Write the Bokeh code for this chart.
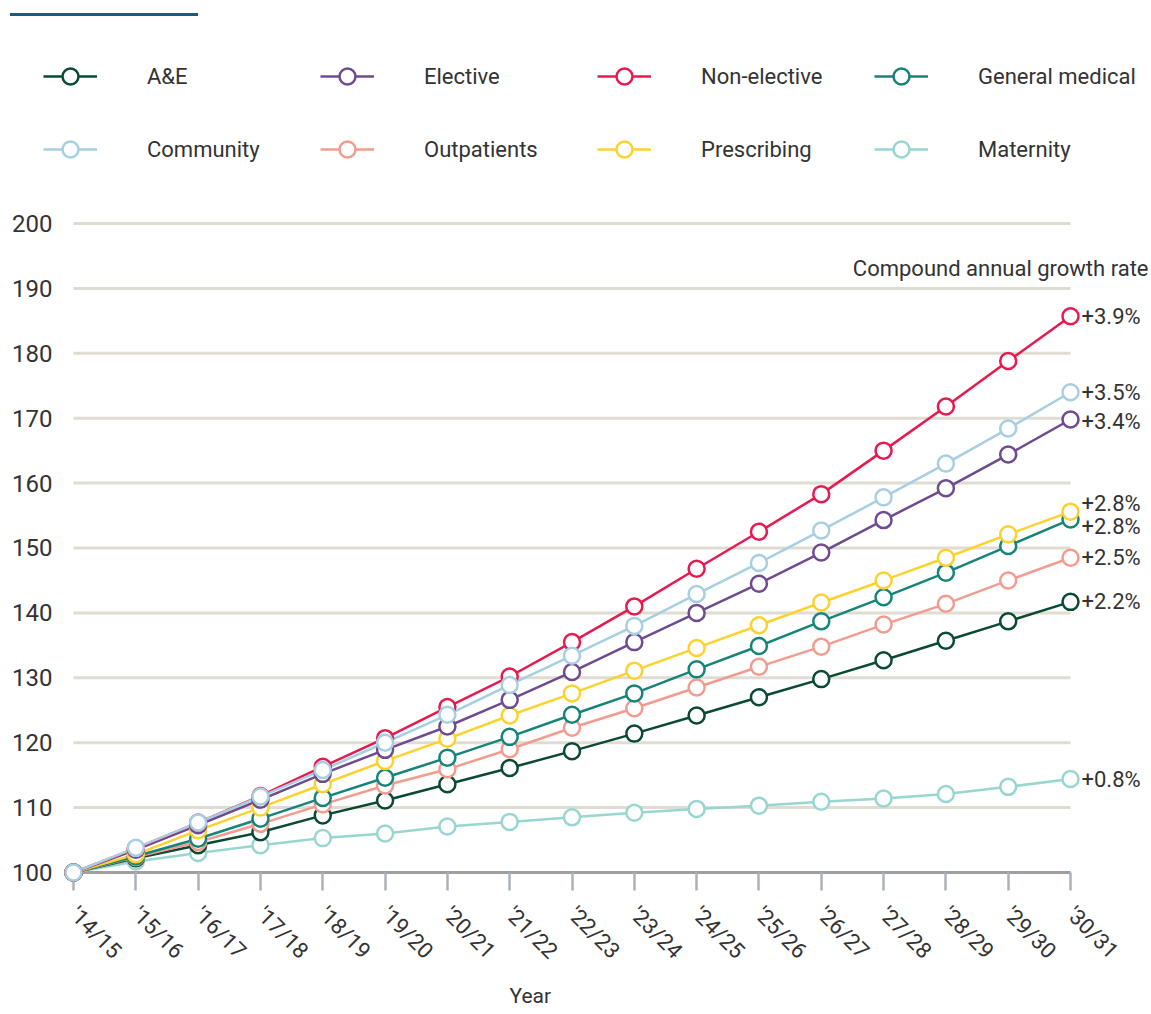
import numpy as np
from bokeh.plotting import figure
from bokeh.models import FixedTicker, Legend, LegendItem, Div, Range1d, Title
from bokeh.layouts import column
from bokeh.embed import file_html
from bokeh.resources import INLINE
from bokeh.core.properties import value

# Financial years on the x axis
years = ["'14/15", "'15/16", "'16/17", "'17/18", "'18/19", "'19/20", "'20/21", "'21/22",
         "'22/23", "'23/24", "'24/25", "'25/26", "'26/27", "'27/28", "'28/29", "'29/30", "'30/31"]

# Activity / spend index, 2014/15 = 100
ae = [100, 102.2, 104.2, 106.2, 108.8, 111.1, 113.6, 116.1, 118.7, 121.4, 124.2,
      127.0, 129.8, 132.7, 135.7, 138.7, 141.7]
elective = [100, 103.5, 107.3, 111.2, 115.2, 118.9, 122.5, 126.6, 130.9, 135.5, 140.0,
            144.5, 149.3, 154.3, 159.2, 164.4, 169.8]
non_elective = [100, 103.7, 107.7, 111.8, 116.3, 120.7, 125.5, 130.2, 135.5, 141.0, 146.8,
                152.5, 158.3, 165.0, 171.8, 178.8, 185.7]
general_medical = [100, 102.5, 105.2, 108.3, 111.5, 114.6, 117.7, 120.9, 124.3, 127.6, 131.3,
                   134.9, 138.7, 142.4, 146.2, 150.3, 154.4]
community = [100, 103.8, 107.7, 111.7, 115.8, 120.0, 124.3, 128.9, 133.4, 138.0, 142.9,
             147.7, 152.7, 157.8, 163.0, 168.4, 174.0]
outpatients = [100, 102.4, 104.7, 107.5, 110.5, 113.4, 115.9, 119.0, 122.3, 125.3, 128.5,
               131.7, 134.8, 138.2, 141.4, 145.0, 148.5]
prescribing = [100, 102.8, 106.5, 110.0, 113.6, 117.2, 120.6, 124.2, 127.6, 131.1, 134.6,
               138.1, 141.6, 145.0, 148.5, 152.1, 155.6]
maternity = [100, 101.7, 103.0, 104.2, 105.3, 106.0, 107.1, 107.8, 108.5, 109.2, 109.8,
             110.3, 110.9, 111.4, 112.1, 113.2, 114.4]

names = ["A&E", "Elective", "Non-elective", "General medical",
         "Community", "Outpatients", "Prescribing", "Maternity"]
cagr = ["+2.2%", "+3.4%", "+3.9%", "+2.8%", "+3.5%", "+2.5%", "+2.8%", "+0.8%"]
y_ticks = [100, 110, 120, 130, 140, 150, 160, 170, 180, 190, 200]

values_by_name = {
    "A&E": ae, "Elective": elective, "Non-elective": non_elective,
    "General medical": general_medical, "Community": community,
    "Outpatients": outpatients, "Prescribing": prescribing, "Maternity": maternity,
}
colors = {
    "A&E": "#0a4a33", "Elective": "#6e4b8f", "Non-elective": "#e8194f",
    "General medical": "#168478", "Community": "#a7cfe2", "Outpatients": "#f29c8f",
    "Prescribing": "#fdd22d", "Maternity": "#98d6d0",
}
# small vertical nudges (px) so the two +2.8% labels do not collide
label_nudge = {"Prescribing": -8, "General medical": 7, "Elective": 2}
# drawing order, back to front
draw_order = ["Maternity", "A&E", "Outpatients", "General medical",
              "Prescribing", "Elective", "Non-elective", "Community"]

FONT = "Roboto"
TEXT = "#333333"
LINE_W = 2.5
MARKER = 16

n = len(years)
xs = list(range(n))
px_per_x = 997 / (n - 1)
px_per_y = 6.5
fig_w = 1151
frame_left = 57
main_h, bottom_border = 804, 131
x_start = -16 / px_per_x
x_end = x_start + (fig_w - frame_left) / px_per_x
y_end = 202
y_start = y_end - (main_h - bottom_border) / px_per_y

# ---- thin rule across the top -------------------------------------------
header = Div(text="", width=188, height=3, margin=(13, 0, 0, 10),
             styles={"background-color": "#1d5b7d"})

# ---- legend strip ----------------------------------------------------------
# The series are drawn here too, but fall outside this strip's ranges, so only
# their legend entries show.
lf = figure(width=fig_w, height=194, x_range=Range1d(0, 1), y_range=Range1d(0, 1),
            output_backend="svg", toolbar_location=None,
            x_axis_location=None, y_axis_location=None,
            min_border_left=0, min_border_right=0, min_border_top=0, min_border_bottom=0,
            margin=(0, 0, 0, 0), frame_align=False)
lf.outline_line_color = None
lf.xgrid.visible = False
lf.ygrid.visible = False
legend_items = []
for nm in names:
    c = colors[nm]
    vals = values_by_name[nm]
    r1 = lf.line(xs, vals, line_color=c, line_width=LINE_W)
    r2 = lf.scatter(xs, vals, marker="circle", fill_color="white", line_color=c,
                    line_width=LINE_W)
    legend_items.append(LegendItem(label=nm, renderers=[r1, r2]))
legend = Legend(items=legend_items, orientation="horizontal", ncols=4,
                glyph_width=54, glyph_height=40, label_standoff=50, label_width=140,
                spacing=33, padding=0, margin=0, location=(43, 41),
                border_line_color=None, background_fill_alpha=0,
                label_text_font=FONT, label_text_font_size="22px", label_text_color=TEXT)
lf.add_layout(legend)

# ---- main chart ------------------------------------------------------------
p = figure(width=fig_w, height=main_h,
           x_range=Range1d(x_start, x_end), y_range=Range1d(y_start, y_end),
           output_backend="svg", toolbar_location=None,
           min_border_left=frame_left, min_border_right=0,
           min_border_top=0, min_border_bottom=bottom_border, margin=(0, 0, 0, 0),
           frame_align=False)
p.outline_line_color = None
p.xgrid.visible = False
p.ygrid.visible = False

# horizontal grid lines, spanning the first to the last year only
p.segment(x0=0, x1=n - 1, y0=y_ticks[1:], y1=y_ticks[1:],
          line_color="#dfdcd3", line_width=3, level="underlay")
# baseline at the index value of 100
p.segment(x0=[0], x1=[n - 1], y0=[y_ticks[0]], y1=[y_ticks[0]],
          line_color="#9f9f9f", line_width=3, level="underlay")

xa = p.xaxis[0]
xa.ticker = FixedTicker(ticks=xs)
xa.major_label_overrides = {i: y for i, y in enumerate(years)}
xa.major_label_orientation = -np.pi / 4
xa.axis_line_color = None
xa.major_tick_line_color = "#abb2ba"
xa.major_tick_line_width = 2.5
xa.major_tick_in = 10
xa.major_tick_out = 8
xa.minor_tick_line_color = None
xa.major_label_standoff = 20
xa.major_label_text_font = FONT
xa.major_label_text_font_size = "22px"
xa.major_label_text_color = TEXT

ya = p.yaxis[0]
ya.ticker = FixedTicker(ticks=y_ticks)
ya.axis_line_color = None
ya.major_tick_line_color = None
ya.major_tick_out = 0
ya.major_tick_in = 0
ya.minor_tick_line_color = None
ya.major_label_standoff = 5
ya.major_label_text_font = FONT
ya.major_label_text_font_size = "24px"
ya.major_label_text_color = TEXT

# x-axis caption
p.add_layout(Title(text="Year", align="left", offset=452, standoff=13,
                   text_font=FONT, text_font_size="21px", text_font_style="normal",
                   text_color=TEXT), "below")

for name in draw_order:
    vals = values_by_name[name]
    c = colors[name]
    p.line(xs, vals, line_color=c, line_width=LINE_W)
    p.scatter(xs, vals, marker="circle", size=MARKER, fill_color="white",
              line_color=c, line_width=LINE_W, level="overlay")

# growth-rate labels at the end of each line
for name, lab in zip(names, cagr):
    vals = values_by_name[name]
    p.text(x=[n - 1], y=[vals[-1]], text=[lab], x_offset=11,
           y_offset=label_nudge.get(name, 0),
           text_align="left", text_baseline="middle",
           text_font=value(FONT), text_font_size="22px", text_color=TEXT)

p.text(x=[n - 1], y=[y_ticks[-1]], text=["Compound annual growth rate"],
       x_offset=78, y_offset=45, text_align="right", text_baseline="middle",
       text_font=value(FONT), text_font_size="22px", text_color=TEXT)

layout = column(header, lf, p)
open("out.html", "w").write(file_html(layout, INLINE))
